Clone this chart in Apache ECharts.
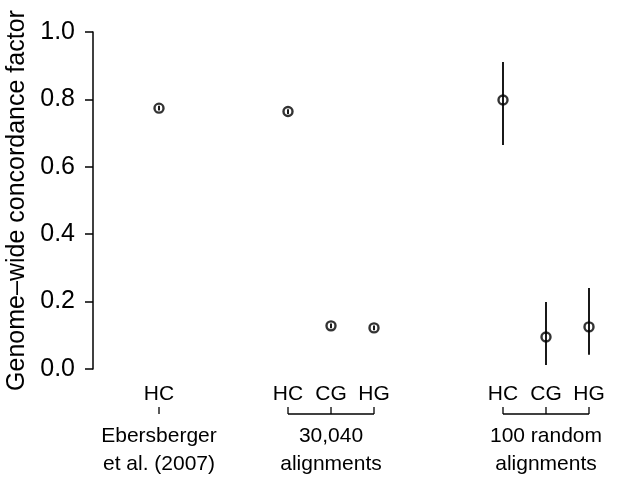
<!DOCTYPE html>
<html lang="en">
<head>
    <meta charset="UTF-8">
    <title>Genome-wide concordance factor</title>
    <script src="https://cdn.jsdelivr.net/npm/echarts@6/dist/echarts.min.js"></script>
    <style>
        html, body { margin: 0; padding: 0; background: #fff; }
        #chart { width: 618px; height: 478px; }
    </style>
</head>
<body>
<div id="chart"></div>
<script>
// positions along x (units), one per estimate
var pairX = [0, 3, 4, 5, 8, 9, 10];
var pairLabels = ['HC', 'HC', 'CG', 'HG', 'HC', 'CG', 'HG'];
var gcf = [0.774, 0.764, 0.128, 0.122, 0.798, 0.095, 0.125];
var errLow = [0.767, 0.757, 0.121, 0.115, 0.665, 0.012, 0.042];
var errHigh = [0.781, 0.771, 0.135, 0.129, 0.911, 0.199, 0.240];

// groups of estimates
var groupNames = ['Ebersberger\net al. (2007)', '30,040\nalignments', '100 random\nalignments'];
var groupFirst = [0, 1, 4];
var groupLast = [0, 3, 6];

var FONT = '"Liberation Sans", Arial, Helvetica, sans-serif';

var chart = echarts.init(document.getElementById('chart'));

var points = pairX.map(function (x, i) { return [x, gcf[i]]; });
var bars = pairX.map(function (x, i) { return [x, errLow[i], errHigh[i]]; });
var labelData = pairX.map(function (x, i) { return [x, 0, i]; });
var groupData = groupNames.map(function (n, g) { return [pairX[groupFirst[g]], pairX[groupLast[g]], g]; });

option = {
    backgroundColor: '#fff',
    animation: false,
    grid: {
        left: 93,
        right: 7.5,
        top: 32,
        bottom: 109,
        outerBoundsMode: 'none'
    },
    xAxis: {
        type: 'value',
        min: -1.535,
        max: 10.5,
        show: false
    },
    yAxis: {
        type: 'value',
        min: 0,
        max: 1,
        interval: 0.2,
        name: 'Genome\u2013wide concordance factor',
        nameLocation: 'middle',
        nameRotate: 90,
        nameGap: 63,
        nameTextStyle: { color: '#000', fontSize: 25, fontFamily: FONT },
        axisLine: { show: true, onZero: false, lineStyle: { color: '#000', width: 1.5 } },
        axisTick: { show: true, length: 8, lineStyle: { color: '#000', width: 1.5 } },
        axisLabel: {
            color: '#000',
            fontSize: 25,
            fontFamily: FONT,
            margin: 18,
            formatter: function (v) { return v.toFixed(1); }
        },
        splitLine: { show: false }
    },
    series: [
        {
            // error bars
            type: 'custom',
            renderItem: function (params, api) {
                var lo = api.coord([api.value(0), api.value(1)]);
                var hi = api.coord([api.value(0), api.value(2)]);
                return {
                    type: 'line',
                    shape: { x1: lo[0], y1: lo[1], x2: hi[0], y2: hi[1] },
                    style: { stroke: '#000', lineWidth: 1.8 }
                };
            },
            data: bars,
            z: 3
        },
        {
            type: 'scatter',
            symbol: 'circle',
            symbolSize: 9,
            itemStyle: { color: 'rgba(0,0,0,0)', borderColor: '#000', borderWidth: 2.4 },
            data: points,
            z: 4
        },
        {
            // pair labels under the axis
            type: 'custom',
            clip: false,
            renderItem: function (params, api) {
                var p = api.coord([api.value(0), 0]);
                return {
                    type: 'text',
                    x: p[0],
                    y: p[1] + 25,
                    style: {
                        text: pairLabels[api.value(2)],
                        fill: '#000',
                        font: '21px ' + FONT,
                        align: 'center',
                        verticalAlign: 'middle'
                    }
                };
            },
            data: labelData
        },
        {
            // brackets and group names
            type: 'custom',
            clip: false,
            renderItem: function (params, api) {
                var g = api.value(2);
                var a = api.coord([api.value(0), 0]);
                var b = api.coord([api.value(1), 0]);
                var yb = a[1] + 45;
                var children = [];
                if (groupFirst[g] !== groupLast[g]) {
                    children.push({
                        type: 'line',
                        shape: { x1: a[0], y1: yb, x2: b[0], y2: yb },
                        style: { stroke: '#000', lineWidth: 1.3 }
                    });
                }
                for (var i = groupFirst[g]; i <= groupLast[g]; i++) {
                    var t = api.coord([pairX[i], 0]);
                    children.push({
                        type: 'line',
                        shape: { x1: t[0], y1: yb - 7, x2: t[0], y2: yb },
                        style: { stroke: '#000', lineWidth: 1.3 }
                    });
                }
                children.push({
                    type: 'text',
                    x: (a[0] + b[0]) / 2,
                    y: yb + 8,
                    style: {
                        text: groupNames[g],
                        fill: '#000',
                        font: '21px ' + FONT,
                        align: 'center',
                        verticalAlign: 'top',
                        lineHeight: 28
                    }
                });
                return { type: 'group', children: children };
            },
            data: groupData
        }
    ]
};

chart.setOption(option);
</script>
</body>
</html>
